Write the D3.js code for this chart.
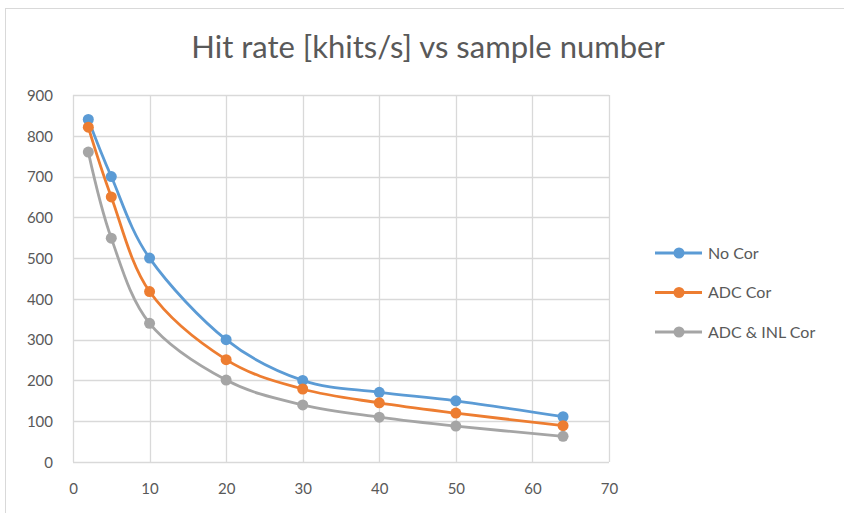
<!DOCTYPE html>
<html>
<head>
<meta charset="utf-8">
<script src="https://cdn.jsdelivr.net/npm/d3@7"></script>
<style>
  body { margin: 0; background: #fff; }
  svg text { font-family: Lato, "Open Sans", sans-serif; fill: #595959; }
</style>
</head>
<body>
<div id="chart"></div>
<script>
// sample numbers on the x axis
const samples = [2, 5, 10, 20, 30, 40, 50, 64];

// hit rate per series [khits/s]
const noCor = [840, 700, 500, 300, 200, 171, 150, 111];
const adcCor = [821, 650, 418, 251, 179, 145, 120, 89];
const adcInlCor = [760, 549, 340, 201, 140, 110, 88, 63];

const seriesNames = ["No Cor", "ADC Cor", "ADC & INL Cor"];
const xTicks = [0, 10, 20, 30, 40, 50, 60, 70];
const yTicks = [0, 100, 200, 300, 400, 500, 600, 700, 800, 900];

const colors = ["#5b9bd5", "#ed7d31", "#a5a5a5"];
const allSeries = [noCor, adcCor, adcInlCor];

const width = 844, height = 513;
const plot = { left: 73, right: 609, top: 95, bottom: 462 };

const svg = d3.select("#chart").append("svg")
    .attr("width", width)
    .attr("height", height);

// chart area frame
svg.append("rect")
    .attr("x", 5.5).attr("y", 8.5)
    .attr("width", 900).attr("height", 600)
    .attr("fill", "#fff")
    .attr("stroke", "#d9d9d9");

const x = d3.scaleLinear().domain([0, 70]).range([plot.left, plot.right]);
const y = d3.scaleLinear().domain([0, 900]).range([plot.bottom, plot.top]);

// gridlines
svg.append("g")
    .selectAll("line")
    .data(yTicks)
    .join("line")
    .attr("x1", plot.left).attr("x2", plot.right)
    .attr("y1", d => Math.round(y(d)) + 0.5)
    .attr("y2", d => Math.round(y(d)) + 0.5)
    .attr("stroke", "#d9d9d9")
    .attr("stroke-width", 1.3);

svg.append("g")
    .selectAll("line")
    .data(xTicks)
    .join("line")
    .attr("y1", plot.top).attr("y2", plot.bottom)
    .attr("x1", d => Math.round(x(d)) + 0.5)
    .attr("x2", d => Math.round(x(d)) + 0.5)
    .attr("stroke", "#d9d9d9")
    .attr("stroke-width", 1.3);

// axes (labels only, lines come from the grid)
const yAxis = svg.append("g")
    .attr("transform", `translate(${plot.left - 20},0)`)
    .call(d3.axisLeft(y).tickValues(yTicks).tickSize(0).tickPadding(0));
yAxis.select(".domain").remove();
yAxis.selectAll("text")
    .style("font-size", "15px")
    .attr("dy", "0.35em");

const xAxis = svg.append("g")
    .attr("transform", `translate(0,${plot.bottom + 21})`)
    .call(d3.axisBottom(x).tickValues(xTicks).tickSize(0).tickPadding(0));
xAxis.select(".domain").remove();
xAxis.selectAll("text")
    .style("font-size", "15px");

// series lines and markers
const line = d3.line()
    .x((d, i) => x(samples[i]))
    .y(d => y(d))
    .curve(d3.curveCatmullRom.alpha(0));

allSeries.forEach((vals, k) => {
    svg.append("path")
        .datum(vals)
        .attr("d", line)
        .attr("fill", "none")
        .attr("stroke", colors[k])
        .attr("stroke-width", 2.8)
        .attr("stroke-linecap", "round");
});

allSeries.forEach((vals, k) => {
    svg.append("g")
        .selectAll("circle")
        .data(vals)
        .join("circle")
        .attr("cx", (d, i) => x(samples[i]))
        .attr("cy", d => y(d))
        .attr("r", 5.5)
        .attr("fill", colors[k]);
});

// title
svg.append("text")
    .attr("x", 428)
    .attr("y", 58)
    .attr("text-anchor", "middle")
    .style("font-size", "31px")
    .text("Hit rate [khits/s] vs sample number");

// legend
const legend = svg.append("g")
    .selectAll("g")
    .data(seriesNames)
    .join("g")
    .attr("transform", (d, i) => `translate(655,${253 + i * 39.5})`);

legend.append("line")
    .attr("x1", 0).attr("x2", 47)
    .attr("stroke", (d, i) => colors[i])
    .attr("stroke-width", 2.8);
legend.append("circle")
    .attr("cx", 24).attr("r", 5.5)
    .attr("fill", (d, i) => colors[i]);
legend.append("text")
    .attr("x", 53)
    .attr("dy", "0.35em")
    .style("font-size", "16px")
    .text(d => d);
</script>
</body>
</html>
